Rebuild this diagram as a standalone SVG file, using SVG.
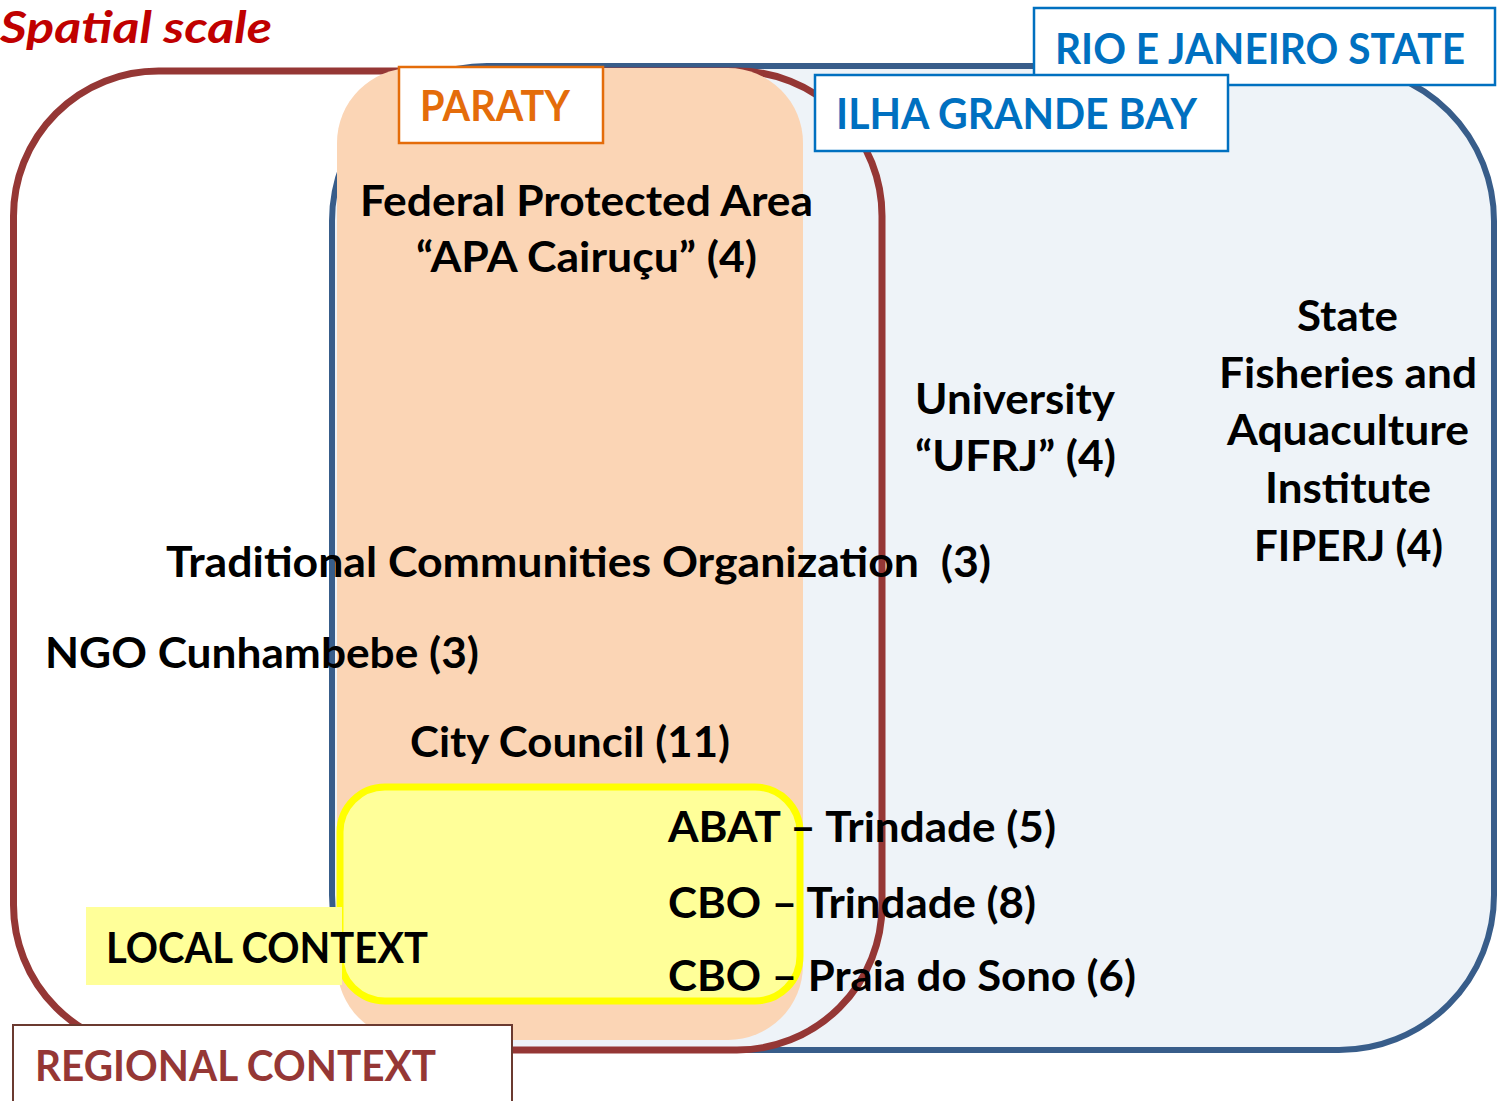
<svg xmlns="http://www.w3.org/2000/svg" width="1497" height="1101" viewBox="0 0 1497 1101">
<style>
text{font-family:Lato,"Liberation Sans",sans-serif;font-weight:bold;font-size:42px;fill:#000}
.lbl{fill:#fff;stroke-width:2.5}
.blue{fill:#0070C0}
.org{fill:#E46C0A}
.reg{fill:#953735}
</style>
<rect width="1497" height="1101" fill="#fff"/>
<g id="rio-state-area"><rect x="332" y="66" width="1162" height="984" rx="155" fill="#EEF3F8" stroke="#385D8A" stroke-width="6"/></g>
<g id="regional-context-area"><rect x="13.5" y="71" width="868.5" height="979" rx="145" fill="none" stroke="#953735" stroke-width="7"/></g>
<g id="paraty-area"><rect x="337" y="68" width="466" height="972" rx="75" fill="#FBD5B5"/></g>
<g id="local-context-area"><rect x="340" y="787" width="460" height="214" rx="45" fill="#FFFF99" stroke="#FFFF00" stroke-width="7"/></g>
<g id="connectors"></g>
<g id="local-context-label"><rect x="86" y="907" width="256" height="78" fill="#FFFF99"/><text x="106" y="963" textLength="322" lengthAdjust="spacingAndGlyphs">LOCAL CONTEXT</text></g>
<g id="regional-context-label"><rect x="13" y="1025" width="499" height="90" fill="#fff" stroke="#6B3A30" stroke-width="2"/><text class="reg" x="35" y="1081" textLength="401" lengthAdjust="spacingAndGlyphs">REGIONAL CONTEXT</text></g>
<g id="paraty-label"><rect class="lbl" x="399" y="67" width="204" height="76" stroke="#E46C0A"/><text class="org" x="420" y="121" textLength="150" lengthAdjust="spacingAndGlyphs">PARATY</text></g>
<g id="rio-state-label"><rect class="lbl" x="1034" y="8" width="461" height="77" stroke="#0070C0"/><text class="blue" x="1055" y="64" textLength="410" lengthAdjust="spacingAndGlyphs">RIO E JANEIRO STATE</text></g>
<g id="ilha-grande-label"><rect class="lbl" x="815" y="75" width="413" height="76" stroke="#0070C0"/><text class="blue" x="836" y="129" textLength="361" lengthAdjust="spacingAndGlyphs">ILHA GRANDE BAY</text></g>
<g id="title"><text x="0" y="43" font-style="italic" style="font-size:44px;fill:#C00000" textLength="272" lengthAdjust="spacingAndGlyphs">Spatial scale</text></g>
<g id="apa-cairucu"><text x="360" y="216" textLength="453" lengthAdjust="spacingAndGlyphs">Federal Protected Area</text><text x="416" y="272" textLength="341" lengthAdjust="spacingAndGlyphs">“APA Cairuçu” (4)</text></g>
<g id="ufrj"><text x="915" y="414" textLength="200" lengthAdjust="spacingAndGlyphs">University</text><text x="915" y="471" textLength="201" lengthAdjust="spacingAndGlyphs">“UFRJ” (4)</text></g>
<g id="fiperj"><text x="1297" y="331" textLength="101" lengthAdjust="spacingAndGlyphs">State</text><text x="1219" y="388" textLength="258" lengthAdjust="spacingAndGlyphs">Fisheries and</text><text x="1227" y="445" textLength="242" lengthAdjust="spacingAndGlyphs">Aquaculture</text><text x="1265" y="503" textLength="166" lengthAdjust="spacingAndGlyphs">Institute</text><text x="1254" y="561" textLength="189" lengthAdjust="spacingAndGlyphs">FIPERJ (4)</text></g>
<g id="traditional-communities"><text x="166" y="577" textLength="825" lengthAdjust="spacingAndGlyphs" xml:space="preserve">Traditional Communities Organization  (3)</text></g>
<g id="ngo-cunhambebe"><text x="45" y="668" textLength="434" lengthAdjust="spacingAndGlyphs">NGO Cunhambebe (3)</text></g>
<g id="city-council"><text x="410" y="757" textLength="320" lengthAdjust="spacingAndGlyphs">City Council (11)</text></g>
<g id="abat-trindade"><text x="668" y="842" textLength="388" lengthAdjust="spacingAndGlyphs">ABAT – Trindade (5)</text></g>
<g id="cbo-trindade"><text x="668" y="918" textLength="368" lengthAdjust="spacingAndGlyphs">CBO – Trindade (8)</text></g>
<g id="cbo-praia-do-sono"><text x="668" y="991" textLength="468" lengthAdjust="spacingAndGlyphs">CBO – Praia do Sono (6)</text></g>
</svg>
